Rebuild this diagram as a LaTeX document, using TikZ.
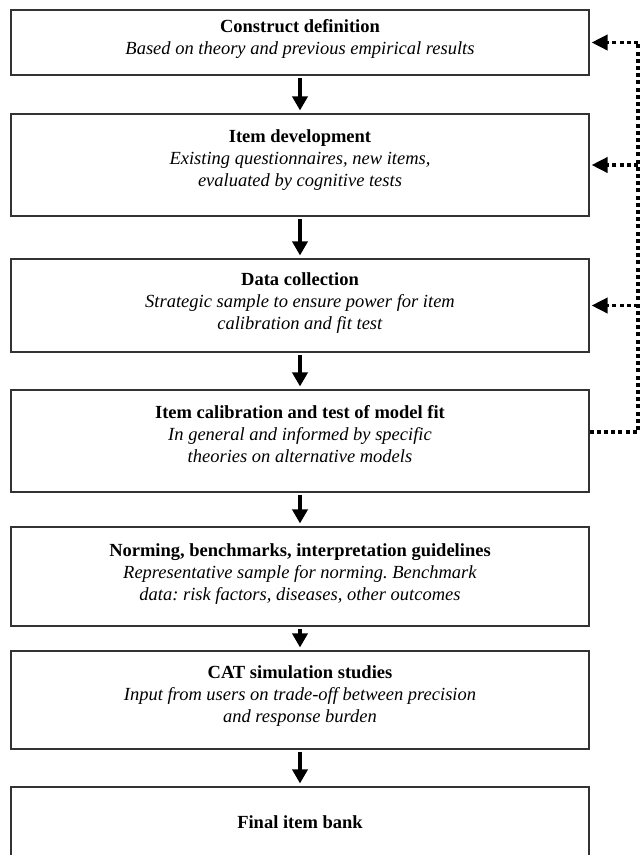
\documentclass[tikz,border=0pt]{standalone}
\usepackage{fontspec}
\setmainfont{Liberation Serif}
\frenchspacing
\usetikzlibrary{arrows.meta}
\begin{document}
\begin{tikzpicture}[x=1pt,y=1pt,
  stagebox/.style={draw=black!80, line width=1.1pt, fill=white, minimum width=578pt, inner sep=0pt},
  stagetext/.style={align=center, font=\fontsize{18.5}{22}\selectfont, inner sep=0pt},
  bigarrow/.style={line width=4.5pt, -{Triangle[width=15pt,length=14pt]}, shorten <=2pt, shorten >=3pt},
  fbline/.style={line width=3.6pt, dash pattern=on 4pt off 3.2pt},
  fbarrow/.style={fbline, -{Triangle[width=15pt,length=16pt]}, shorten >=2pt}
]
\useasboundingbox (0,0) rectangle (641,-855);
\node[stagebox, minimum height=65pt]  (b1) at (300,-42.5) {};
\node[stagebox, minimum height=102pt] (b2) at (300,-165) {};
\node[stagebox, minimum height=93pt]  (b3) at (300,-305.5) {};
\node[stagebox, minimum height=102pt] (b4) at (300,-441) {};
\node[stagebox, minimum height=99pt]  (b5) at (300,-576.5) {};
\node[stagebox, minimum height=98pt]  (b6) at (300,-700) {};
\node[stagebox, minimum height=90pt]  (b7) at (300,-832) {};

\node[stagetext] (t1) at (300,-39) {\textbf{Construct definition}\\\textit{Based on theory and previous empirical results}};
\node[stagetext] (t2) at (300,-160) {\textbf{Item development}\\\textit{Existing questionnaires, new items,}\\\textit{evaluated by cognitive tests}};
\node[stagetext] (t3) at (300,-303) {\textbf{Data collection}\\\textit{Strategic sample to ensure power for item}\\\textit{calibration and fit test}};
\node[stagetext] (t4) at (300,-434) {\textbf{Item calibration and test of model fit}\\\textit{In general and informed by specific}\\\textit{theories on alternative models}};
\node[stagetext] (t5) at (300,-574) {\textbf{Norming, benchmarks, interpretation guidelines}\\\textit{Representative sample for norming. Benchmark}\\\textit{data: risk factors, diseases, other outcomes}};
\node[stagetext] (t6) at (300,-696) {\textbf{CAT simulation studies}\\\textit{Input from users on trade-off between precision}\\\textit{and response burden}};
\node[stagetext] (t7) at (300,-822) {\textbf{Final item bank}};

\draw[bigarrow] (b1.south) -- (b2.north);
\draw[bigarrow] (b2.south) -- (b3.north);
\draw[bigarrow] (b3.south) -- (b4.north);
\draw[bigarrow] (b4.south) -- (b5.north);
\draw[bigarrow] (b5.south) -- (b6.north);
\draw[bigarrow] (b6.south) -- (b7.north);

\coordinate (fb) at (638,-432);
\draw[fbline] (b4.east |- fb) -- (fb) -- (fb |- b1.east);
\draw[fbarrow] (fb |- b1.east) -- (b1.east);
\draw[fbarrow] (fb |- b2.east) -- (b2.east);
\draw[fbarrow] (fb |- b3.east) -- (b3.east);
\end{tikzpicture}
\end{document}
